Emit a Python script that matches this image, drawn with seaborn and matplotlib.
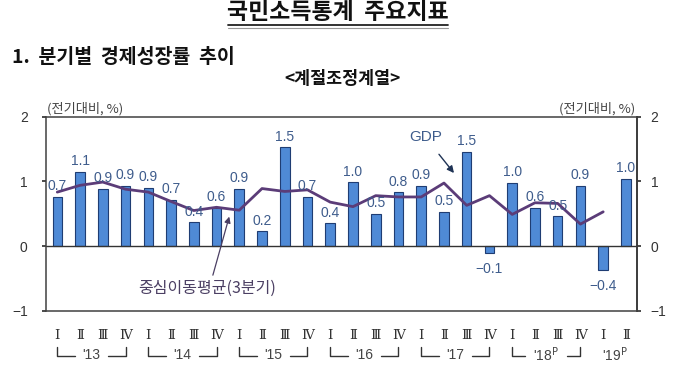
import numpy as np
import pandas as pd
import seaborn as sns
import matplotlib.pyplot as plt
import matplotlib.transforms as mtrans
from matplotlib.lines import Line2D

# quarterly real GDP growth, q/q %, 2013 Q1 .. 2019 Q2
quarters = ['Ⅰ', 'Ⅱ', 'Ⅲ', 'Ⅳ'] * 6 + ['Ⅰ', 'Ⅱ']
years = ["'13", "'14", "'15", "'16", "'17", "'18$^{\\mathrm{P}}$", "'19$^{\\mathrm{P}}$"]
gdp = [0.76, 1.15, 0.89, 0.93, 0.90, 0.72, 0.37, 0.59, 0.89, 0.23, 1.53, 0.76,
       0.35, 0.99, 0.50, 0.83, 0.93, 0.53, 1.46, -0.10, 0.98, 0.59, 0.46, 0.93,
       -0.37, 1.04]
gdp_labels = [0.7, 1.1, 0.9, 0.9, 0.9, 0.7, 0.4, 0.6, 0.9, 0.2, 1.5, 0.7,
              0.4, 1.0, 0.5, 0.8, 0.9, 0.5, 1.5, -0.1, 1.0, 0.6, 0.5, 0.9,
              -0.4, 1.0]
# 3-quarter centred moving average (ends at 2019 Q1)
ma3 = [0.835, 0.94, 0.99, 0.88, 0.835, 0.69, 0.55, 0.60, 0.555, 0.89, 0.845, 0.87,
       0.68, 0.61, 0.78, 0.76, 0.76, 0.975, 0.63, 0.78, 0.49, 0.67, 0.66, 0.34,
       0.53]

BAR = '#4f8ad6'
EDGE = '#1f3d73'
LINE = '#5b3c78'
LBL = '#3e5c8c'
TXT = '#333333'
KR = ['Noto Sans CJK KR', 'DejaVu Sans']

sns.set_theme(style='white')
plt.rcParams['font.family'] = ['Liberation Sans', 'Noto Sans CJK KR', 'DejaVu Sans']

fig = plt.figure(figsize=(6.8, 3.78), dpi=100)
ax = fig.add_axes([0.0672, 0.178, 0.869, 0.513])

df = pd.DataFrame({'pos': range(len(gdp)), 'gdp': gdp})
sns.barplot(data=df, x='pos', y='gdp', color=BAR, saturation=1, width=0.42,
            edgecolor=EDGE, linewidth=0.8, ax=ax)
sns.lineplot(x=np.arange(len(ma3)), y=ma3, color=LINE, linewidth=2.0, ax=ax)
ax.axhline(0, color=TXT, lw=1)

for i, (v, l) in enumerate(zip(gdp, gdp_labels)):
    s = f'{l:.1f}'.replace('-', '\u2212')
    if v >= 0:
        ax.annotate(s, (i, v), xytext=(0, 4.7), textcoords='offset points',
                    ha='center', va='baseline', fontsize=10, color=LBL)
    else:
        ax.annotate(s, (i, v), xytext=(0, -6.5), textcoords='offset points',
                    ha='center', va='top', fontsize=10, color=LBL)

ax.set_xlim(-0.51, 25.47)
ax.set_ylim(-1, 2)
ax.set_yticks([-1, 0, 1, 2])
ax.tick_params(axis='y', left=True, length=3, pad=10, labelsize=10, labelcolor=TXT, color=TXT)
ax.set_xticks(range(len(quarters)))
ax.set_xticklabels(quarters, fontfamily=['DejaVu Serif', 'Noto Sans CJK KR'],
                   fontsize=9.5, color=TXT)
ax.tick_params(axis='x', length=0, pad=13)
ax.set_xlabel('')
ax.set_ylabel('')
for sp in ax.spines.values():
    sp.set_color('#404040')
    sp.set_linewidth(1.1)

axr = ax.secondary_yaxis('right')
axr.set_yticks([-1, 0, 1, 2])
axr.tick_params(length=3, pad=7, labelsize=10, labelcolor=TXT, color=TXT)

# unit labels
ax.annotate('(전기대비, %)', (0, 1), xycoords='axes fraction', xytext=(1, 5.5),
            textcoords='offset points', ha='left', va='center', fontsize=9.5,
            color='#444444', family=KR)
ax.annotate('(전기대비, %)', (1, 1), xycoords='axes fraction', xytext=(-1, 5.5),
            textcoords='offset points', ha='right', va='center', fontsize=9.5,
            color='#444444', family=KR)

# callouts
ax.annotate('GDP', xy=(17.44, 1.13), xytext=(16.19, 1.68), ha='center', va='center',
            fontsize=11, color=LBL,
            arrowprops=dict(arrowstyle='-|>', color='#1f3355', lw=1.0,
                            shrinkA=6, shrinkB=0, mutation_scale=10))
ax.annotate('', xy=(7.56, 0.456), xytext=(6.84, -0.45),
            arrowprops=dict(arrowstyle='-|>', color='#4b3f63', lw=0.9,
                            shrinkA=0, shrinkB=0, mutation_scale=9))
ax.text(6.6, -0.66, '중심이동평균(3분기)', ha='center', va='center', fontsize=11.5,
        color='#4b3f63', family=KR)

# year brackets below the quarter numerals
tr = mtrans.blended_transform_factory(ax.transData, ax.transAxes)
y_top, y_bot, y_txt = -0.187, -0.232, -0.228
gaps = [0.72, 0.72, 0.72, 0.72, 0.72, 0.92]
for k, yl in enumerate(years):
    if k < 6:
        x0, x1 = 4 * k, 4 * k + 3
        mid = (x0 + x1) / 2
        g = gaps[k]
        ax.plot([x0, x0, mid - g], [y_top, y_bot, y_bot], color=TXT, lw=1,
                transform=tr, clip_on=False)
        ax.plot([mid + g, x1, x1], [y_bot, y_bot, y_top], color=TXT, lw=1,
                transform=tr, clip_on=False)
    else:
        mid = 24.5
    ax.text(mid, y_txt, yl, transform=tr, ha='center', va='center',
            fontsize=10, color='#444444')

# headings
fig.text(0.497, 0.966, '국민소득통계  주요지표', ha='center', va='center',
         fontsize=16.5, fontweight='bold', family=KR, color='#111111')
fig.add_artist(Line2D([0.335, 0.659], [0.934, 0.934], color='#222222', lw=1.3))
fig.add_artist(Line2D([0.335, 0.659], [0.927, 0.927], color='#999999', lw=0.8))
fig.text(0.0176, 0.849, '1.  분기별  경제성장률  추이', ha='left', va='center',
         fontsize=14, fontweight='bold', family=KR, color='#111111')
fig.text(0.503, 0.791, '<계절조정계열>', ha='center', va='center',
         fontsize=12.5, fontweight='bold', family=KR, color='#111111')

fig.savefig('out.png', dpi=100, facecolor='white')
